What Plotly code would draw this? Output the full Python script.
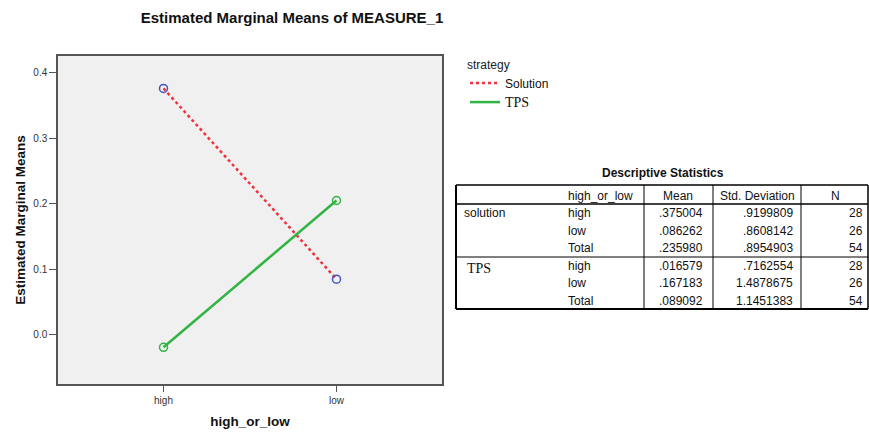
import plotly.graph_objects as go

# ---- chart data ----
levels = ["high", "low"]
strategies = ["Solution", "TPS"]
emm_solution = [0.376, 0.085]
emm_tps = [-0.019, 0.205]
y_ticks = [0.0, 0.1, 0.2, 0.3, 0.4]

# ---- table data ----
tbl_title = "Descriptive Statistics"
tbl_header = ["high_or_low", "Mean", "Std. Deviation", "N"]
tbl_groups = ["solution", "TPS"]
tbl_levels = ["high", "low", "Total"]
tbl_mean = [[".375004", ".086262", ".235980"], [".016579", ".167183", ".089092"]]
tbl_sd = [[".9199809", ".8608142", ".8954903"], [".7162554", "1.4878675", "1.1451383"]]
tbl_n = [["28", "26", "54"], ["28", "26", "54"]]

W, H = 869, 433
L, R, T, B = 58, 442, 56, 384
SANS = "Liberation Sans, Arial, sans-serif"
SERIF = "Liberation Serif, Times New Roman, serif"


def px(x):
    return (x - L) / (R - L)


def py(y):
    return (B - y) / (B - T)


RED = "#F0323C"
GREEN = "#30B443"
BLUE = "#4654C0"

fig = go.Figure()
fig.add_trace(go.Scatter(x=levels, y=emm_solution, mode="lines", name=strategies[0],
                         line=dict(color=RED, width=2.5, dash="dot")))
fig.add_trace(go.Scatter(x=levels, y=emm_tps, mode="lines",
                         name="<span style='font-family:Liberation Serif;font-size:14px'>TPS</span>",
                         line=dict(color=GREEN, width=2.5)))
fig.add_trace(go.Scatter(x=levels, y=emm_solution, mode="markers", showlegend=False,
                         marker=dict(symbol="circle-open", size=8, color=BLUE, line=dict(width=1.5))))
fig.add_trace(go.Scatter(x=levels, y=emm_tps, mode="markers", showlegend=False,
                         marker=dict(symbol="circle-open", size=8, color=GREEN, line=dict(width=1.5))))

axis_font = dict(family=SANS, size=10, color="#333333")
fig.update_layout(
    width=W, height=H,
    margin=dict(l=L, r=W - R, t=T, b=H - B, pad=0, autoexpand=False),
    paper_bgcolor="white", plot_bgcolor="#F0F0F0",
    font=dict(family=SANS, color="#111111"),
    title=dict(text="<b>Estimated Marginal Means of MEASURE_1</b>", xref="container", x=292 / W,
               xanchor="center", yref="container", y=1 - 18 / H, yanchor="middle",
               font=dict(size=15, color="#111111")),
    xaxis=dict(type="category", range=[-0.61, 1.61], showgrid=False, zeroline=False,
               showline=True, linecolor="#555555", linewidth=1.5, mirror=True, automargin=False,
               ticks="outside", ticklen=6, tickcolor="#555555", tickfont=axis_font,
               title=dict(text="<b>high_or_low</b>", font=dict(size=13.5, color="#111111"), standoff=12)),
    yaxis=dict(range=[-0.075, 0.4255], tickvals=y_ticks, tickformat=".1f", showgrid=False,
               zeroline=False, showline=True, linecolor="#555555", linewidth=1.5, mirror=True,
               automargin=False,
               ticks="outside", ticklen=7, tickcolor="#555555", tickfont=axis_font,
               title=dict(text="<b>Estimated Marginal Means</b>", font=dict(size=13.5, color="#111111"),
                          standoff=5)),
    legend=dict(x=px(465), y=py(53), xanchor="left", yanchor="top", bgcolor="rgba(0,0,0,0)",
                title=dict(text="strategy", font=dict(size=12, color="#222222")),
                font=dict(size=12, color="#111111"), itemwidth=30, tracegroupgap=0),
)

# ---- descriptive statistics table (drawn with shapes + text) ----
tx0, tx1 = 456, 868
ty0, ty1 = 185, 309
hdr_line = 204
grp_line = 257
col_seps = [644, 713, 801]
row_y = [[213, 231, 248], [266, 283, 301]]

shapes = []


def hline(y, x0, x1, w=1):
    shapes.append(dict(type="line", xref="paper", yref="paper", x0=px(x0), x1=px(x1), y0=py(y), y1=py(y),
                       line=dict(color="black", width=w)))


def vline(x, y0, y1, w=1):
    shapes.append(dict(type="line", xref="paper", yref="paper", x0=px(x), x1=px(x), y0=py(y0), y1=py(y1),
                       line=dict(color="black", width=w)))


hline(ty0, tx0, tx1, 1.5)
hline(ty1, tx0, tx1, 2)
vline(tx0, ty0, ty1, 2)
vline(tx1, ty0, ty1, 1.5)
hline(hdr_line, tx0, tx1, 1.5)
hline(grp_line, tx0, tx1, 1)
for cx in col_seps:
    vline(cx, ty0, ty1, 1)

ann = []
tfont = dict(family=SANS, size=12, color="#111111")


def text(x, y, s, anchor="left", font=tfont):
    ann.append(dict(xref="paper", yref="paper", x=px(x), y=py(y), text=s, showarrow=False,
                    xanchor=anchor, yanchor="middle", font=font))


text(663, 173, "<b>" + tbl_title + "</b>", "center", dict(family=SANS, size=12, color="#111111"))
text(566, 196, tbl_header[0], "left")
text(678, 196, tbl_header[1], "center")
text(757, 196, tbl_header[2], "center")
text(835, 196, tbl_header[3], "center")
for g, grp in enumerate(tbl_groups):
    if g == 0:
        text(462, row_y[g][0], grp, "left")
    else:
        text(465, row_y[g][0] + 2, grp, "left", dict(family=SERIF, size=14, color="#111111"))
    for r, lev in enumerate(tbl_levels):
        yy = row_y[g][r]
        text(566, yy, lev, "left")
        text(705, yy, tbl_mean[g][r], "right")
        text(795, yy, tbl_sd[g][r], "right")
        text(865, yy, tbl_n[g][r], "right")

fig.update_layout(shapes=shapes, annotations=ann)
fig.write_html("out.html", config={"displayModeBar": False},
               post_script="document.body.style.margin='0';document.body.style.overflow='hidden';")
